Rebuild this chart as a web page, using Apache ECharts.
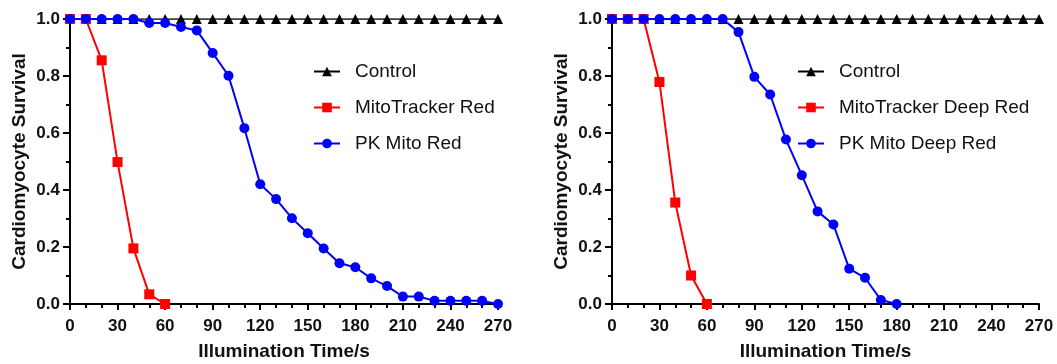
<!DOCTYPE html>
<html>
<head>
<meta charset="utf-8">
<script src="https://cdn.jsdelivr.net/npm/echarts@6/dist/echarts.min.js"></script>
<style>
  html, body { margin: 0; padding: 0; background: #fff; }
  #chart { width: 1057px; height: 364px; }
</style>
</head>
<body>
<div id="chart"></div>
<script>
// illumination time (s), every 10 s
const times = [0, 10, 20, 30, 40, 50, 60, 70, 80, 90, 100, 110, 120, 130, 140,
  150, 160, 170, 180, 190, 200, 210, 220, 230, 240, 250, 260, 270];

// left panel
const controlLeft = times.map(() => 1.0);
const mitoRedTimes = [0, 10, 20, 30, 40, 50, 60];
const mitoRed = [1.0, 1.0, 0.855, 0.498, 0.195, 0.034, 0.0];
const pkRed = [1.0, 1.0, 1.0, 1.0, 1.0, 0.986, 0.986, 0.972, 0.96, 0.881, 0.801,
  0.617, 0.42, 0.368, 0.301, 0.248, 0.195, 0.143, 0.129, 0.09, 0.063, 0.026,
  0.026, 0.011, 0.011, 0.011, 0.011, 0.0];

// right panel
const controlRight = times.map(() => 1.0);
const mitoDeepTimes = [0, 10, 20, 30, 40, 50, 60];
const mitoDeep = [1.0, 1.0, 1.0, 0.779, 0.356, 0.10, 0.0];
const pkDeepTimes = [0, 10, 20, 30, 40, 50, 60, 70, 80, 90, 100, 110, 120, 130,
  140, 150, 160, 170, 180];
const pkDeep = [1.0, 1.0, 1.0, 1.0, 1.0, 1.0, 1.0, 1.0, 0.954, 0.797, 0.735,
  0.577, 0.452, 0.325, 0.279, 0.124, 0.092, 0.014, 0.0];

const FONT = '"Liberation Sans", Arial, sans-serif';
const pairs = (xs, ys) => xs.map((x, i) => [x, ys[i]]);

function xAxisOption(gridIndex) {
  return {
    gridIndex,
    type: "value",
    min: 0,
    max: 270,
    interval: 30,
    name: "Illumination Time/s",
    nameLocation: "middle",
    nameGap: 38,
    nameTextStyle: { fontFamily: FONT, fontWeight: "bold", fontSize: 19, color: "#111" },
    axisLine: { show: true, lineStyle: { color: "#000", width: 2 } },
    axisTick: { show: true, length: 6, lineStyle: { color: "#000", width: 2 } },
    minorTick: { show: true, splitNumber: 3, length: 4, lineStyle: { color: "#000", width: 2 } },
    axisLabel: { fontFamily: FONT, fontWeight: "bold", fontSize: 17, color: "#111", margin: 14 },
    splitLine: { show: false },
  };
}

function yAxisOption(gridIndex) {
  return {
    gridIndex,
    type: "value",
    min: 0,
    max: 1,
    interval: 0.2,
    name: "Cardiomyocyte Survival",
    nameLocation: "middle",
    nameGap: 41,
    nameTextStyle: { fontFamily: FONT, fontWeight: "bold", fontSize: 19, color: "#111" },
    axisLine: { show: true, lineStyle: { color: "#000", width: 2 } },
    axisTick: { show: true, length: 7, lineStyle: { color: "#000", width: 2 } },
    minorTick: { show: true, splitNumber: 2, length: 4, lineStyle: { color: "#000", width: 2 } },
    axisLabel: {
      fontFamily: FONT, fontWeight: "bold", fontSize: 17, color: "#111", margin: 10,
      formatter: (v) => v.toFixed(1),
    },
    splitLine: { show: false },
  };
}

function lineSeries(name, data, idx, color, symbol, width, z) {
  return {
    name,
    type: "line",
    xAxisIndex: idx,
    yAxisIndex: idx,
    data,
    symbol,
    symbolSize: 10,
    showAllSymbol: true,
    z,
    itemStyle: { color },
    lineStyle: { color, width },
    emphasis: { disabled: true },
    animation: false,
  };
}

function legendOption(left, names) {
  return {
    orient: "vertical",
    left,
    top: 61,
    padding: 0,
    itemWidth: 26,
    itemHeight: 12,
    itemGap: 15,
    data: names,
    textStyle: { fontFamily: FONT, fontSize: 19, color: "#111", lineHeight: 21, padding: [0, 0, 0, 10] },
  };
}

const chart = echarts.init(document.getElementById("chart"));
chart.setOption({
  backgroundColor: "#fff",
  animation: false,
  grid: [
    { left: 70, top: 19, width: 428, height: 285, outerBoundsMode: "none", containLabel: false },
    { left: 612, top: 19, width: 427, height: 285, outerBoundsMode: "none", containLabel: false },
  ],
  xAxis: [xAxisOption(0), xAxisOption(1)],
  yAxis: [yAxisOption(0), yAxisOption(1)],
  legend: [
    legendOption(313, ["Control", "MitoTracker Red", "PK Mito Red"]),
    legendOption(797, ["Control ", "MitoTracker Deep Red", "PK Mito Deep Red"]),
  ],
  series: [
    lineSeries("Control", pairs(times, controlLeft), 0, "#000", "triangle", 1.5, 2),
    lineSeries("MitoTracker Red", pairs(mitoRedTimes, mitoRed), 0, "#ff0000", "rect", 2, 3),
    lineSeries("PK Mito Red", pairs(times, pkRed), 0, "#0000ff", "circle", 2, 4),
    lineSeries("Control ", pairs(times, controlRight), 1, "#000", "triangle", 1.5, 2),
    lineSeries("MitoTracker Deep Red", pairs(mitoDeepTimes, mitoDeep), 1, "#ff0000", "rect", 2, 3),
    lineSeries("PK Mito Deep Red", pairs(pkDeepTimes, pkDeep), 1, "#0000ff", "circle", 2, 4),
  ],
});
</script>
</body>
</html>
